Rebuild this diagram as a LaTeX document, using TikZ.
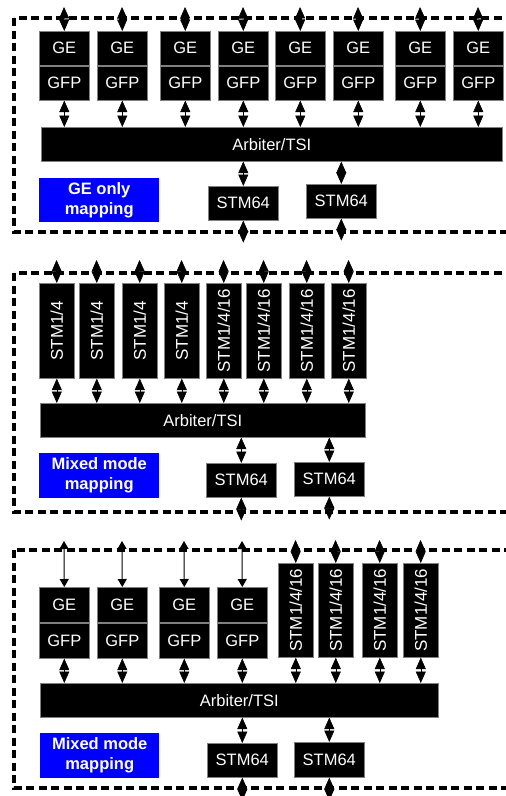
\documentclass[tikz,border=0pt]{standalone}
\usepackage{fontspec}
\setmainfont{Liberation Sans}
\usetikzlibrary{arrows.meta}
\begin{document}
\begin{tikzpicture}[x=1pt,y=-1pt,
  blk/.style={fill=black, draw=black!50, line width=0.6pt, text=white, inner sep=0pt, anchor=north west, font=\fontsize{16.5}{19}\selectfont},
  gebox/.style={blk, minimum width=50pt, minimum height=34pt},
  stmbox/.style={blk, minimum width=35pt, minimum height=95pt},
  m64/.style={blk, minimum width=70pt, minimum height=34pt},
  vlab/.style={rotate=90, text=white, inner sep=0pt, font=\fontsize{17}{19}\selectfont},
  bluebox/.style={fill=blue, text=white, inner sep=0pt, anchor=north west, align=center, minimum width=120pt, minimum height=44pt, font=\fontsize{16.5}{20}\selectfont\bfseries},
  border/.style={line width=3.6pt, dash pattern=on 8pt off 4.5pt},
  bigarr/.style={{Triangle[length=11.5pt,width=10pt]}-{Triangle[length=11.5pt,width=10pt]}, line width=0.6pt},
  thinarr/.style={{Triangle[length=8pt,width=9pt]}-{Triangle[length=8pt,width=9pt]}, line width=1pt, draw=black}
]
\clip (0,0) rectangle (506,796);

% ---------------- Panel 1 ----------------
\draw[border] (14,18) rectangle (525,232);
\node[blk, minimum width=461pt, minimum height=34pt] (pa-arb) at (41,127) {Arbiter/TSI};
\foreach \x [count=\i] in {39,97,160,218,275,333,395,453} {
  \node[gebox] (pa-ge\i) at (\x,31) {GE};
  \node[gebox] (pa-gfp\i) at (\x,66) {GFP};
  \coordinate (pa-t\i) at (\x+25,7);
  \draw[bigarr] (pa-t\i) -- (pa-ge\i.north);
  \draw[bigarr] (pa-gfp\i.south) -- (pa-gfp\i.south |- pa-arb.north);
}
\node[m64] (pa-m1) at (208,186) {STM64};
\node[m64] (pa-m2) at (306,184) {STM64};
\node[bluebox] (pa-lab) at (39,178) {GE only\\mapping};
\foreach \j in {1,2} {
  \draw[bigarr] (pa-m\j.north |- pa-arb.south) -- (pa-m\j.north);
  \coordinate (pa-b\j) at ([yshift=-22pt]pa-m\j.south);
  \draw[bigarr] (pa-m\j.south) -- (pa-b\j);
}

% ---------------- Panel 2 ----------------
\draw[border] (14,273) rectangle (525,512);
\node[blk, minimum width=325pt, minimum height=34pt] (pb-arb) at (40,403) {Arbiter/TSI};
\foreach \x/\t [count=\i] in {39/STM1\slash 4,79/STM1\slash 4,122/STM1\slash 4,164/STM1\slash 4,206/STM1\slash 4\slash 16,246/STM1\slash 4\slash 16,289/STM1\slash 4\slash 16,331/STM1\slash 4\slash 16} {
  \node[stmbox] (pb-s\i) at (\x,283) {};
  \node[vlab] (pb-sl\i) at (pb-s\i.center) {\t};
  \coordinate (pb-t\i) at (\x+17.5,260);
  \draw[bigarr] (pb-t\i) -- (pb-s\i.north);
  \draw[bigarr] (pb-s\i.south) -- (pb-s\i.south |- pb-arb.north);
}
\node[m64] (pb-m1) at (206,463) {STM64};
\node[m64] (pb-m2) at (294,462) {STM64};
\node[bluebox, minimum width=120pt, minimum height=45pt] (pb-lab) at (39,453) {Mixed mode\\mapping};
\foreach \j in {1,2} {
  \draw[bigarr] (pb-m\j.north |- pb-arb.south) -- (pb-m\j.north);
  \coordinate (pb-b\j) at ([yshift=-23pt]pb-m\j.south);
  \draw[bigarr] (pb-m\j.south) -- (pb-b\j);
}

% ---------------- Panel 3 ----------------
\draw[border] (14,550) rectangle (525,788);
\node[blk, minimum width=398pt, minimum height=34pt] (pc-arb) at (40,683) {Arbiter/TSI};
\foreach \x [count=\i] in {39,97,159,217} {
  \node[gebox, minimum height=35pt] (pc-ge\i) at (\x,587) {GE};
  \node[gebox, minimum height=35pt] (pc-gfp\i) at (\x,623) {GFP};
  \coordinate (pc-t\i) at (\x+25,541);
  \draw[thinarr] (pc-t\i) -- (pc-ge\i.north);
  \draw[bigarr] (pc-gfp\i.south) -- (pc-gfp\i.south |- pc-arb.north);
}
\foreach \x [count=\i] in {278,318,362,403} {
  \node[stmbox, minimum height=94pt] (pc-s\i) at (\x,563) {};
  \node[vlab] (pc-sl\i) at (pc-s\i.center) {STM1\slash 4\slash 16};
  \coordinate (pc-u\i) at (\x+17.5,540);
  \draw[bigarr] (pc-u\i) -- (pc-s\i.north);
  \draw[bigarr] (pc-s\i.south) -- (pc-s\i.south |- pc-arb.north);
}
\node[m64] (pc-m1) at (207,743) {STM64};
\node[m64, minimum height=35pt] (pc-m2) at (294,742) {STM64};
\node[bluebox, minimum width=119pt, minimum height=45pt] (pc-lab) at (40,733) {Mixed mode\\mapping};
\foreach \j in {1,2} {
  \draw[bigarr] (pc-m\j.north |- pc-arb.south) -- (pc-m\j.north);
  \coordinate (pc-b\j) at ([yshift=-23pt]pc-m\j.south);
  \draw[bigarr] (pc-m\j.south) -- (pc-b\j);
}
\end{tikzpicture}
\end{document}
